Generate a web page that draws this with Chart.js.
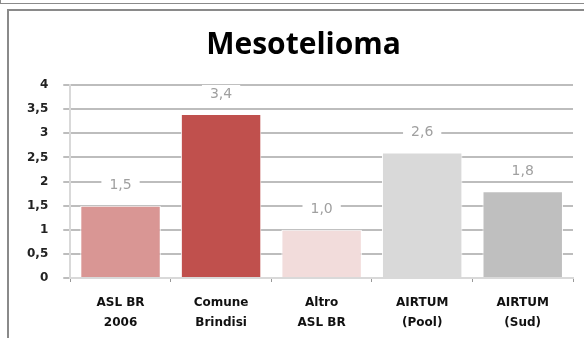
<!DOCTYPE html>
<html>
<head>
<meta charset="utf-8">
<script src="https://cdn.jsdelivr.net/npm/chart.js@4/dist/chart.umd.min.js"></script>
<style>
    html, body { margin: 0; padding: 0; background: #fff; width: 584px; height: 338px; overflow: hidden; }
    #topBox { position: absolute; left: 0; top: 0; width: 584px; height: 3px; border-bottom: 1px solid #8a8a8a; border-left: 1px solid #8a8a8a; }
    #frame { position: absolute; left: 7px; top: 9px; width: 600px; height: 360px; border: 2px solid #8a8a8a; }
    #wrap { position: absolute; left: 9px; top: 11px; width: 590px; height: 327px; }
</style>
</head>
<body>
<div id="topBox"></div>
<div id="frame"></div>
<div id="wrap"><canvas id="chartMeso"></canvas></div>
<script>
    // dati del grafico
    var categorie = [["ASL BR", "2006"], ["Comune", "Brindisi"], ["Altro", "ASL BR"], ["AIRTUM", "(Pool)"], ["AIRTUM", "(Sud)"]];
    var valori = [1.5, 3.4, 1.0, 2.6, 1.8];
    var colori = ["#d99694", "#c0504d", "#f2dcdb", "#d9d9d9", "#bfbfbf"];
    var tickY = [0, 0.5, 1, 1.5, 2, 2.5, 3, 3.5, 4];

    function virgola(v, dec) {
        return (dec == null ? String(v) : v.toFixed(dec)).replace(".", ",");
    }

    // etichette sopra le barre, con sfondo bianco
    var etichette = {
        id: "etichette",
        afterDatasetsDraw: function (chart) {
            var ctx = chart.ctx;
            var meta = chart.getDatasetMeta(0);
            ctx.save();
            ctx.font = "14px 'DejaVu Sans'";
            ctx.textAlign = "center";
            ctx.textBaseline = "middle";
            for (var i = 0; i < meta.data.length; i++) {
                var bar = meta.data[i];
                var testo = virgola(valori[i], 1);
                var y = bar.y - 20;
                var w = ctx.measureText(testo).width + 16;
                ctx.fillStyle = "#ffffff";
                ctx.fillRect(bar.x - w / 2, y - 9, w, 18);
                ctx.fillStyle = "#a0a0a0";
                ctx.fillText(testo, bar.x, y);
            }
            ctx.restore();
        }
    };

    var ctxMeso = document.getElementById("chartMeso").getContext("2d");
    var chartMeso = new Chart(ctxMeso, {
        type: "bar",
        data: {
            labels: categorie,
            datasets: [{
                data: valori,
                backgroundColor: colori,
                borderColor: "#ffffff",
                borderWidth: 1,
                barPercentage: 0.8,
                categoryPercentage: 1
            }]
        },
        options: {
            responsive: true,
            maintainAspectRatio: false,
            animation: false,
            layout: { padding: { left: 3, right: 4, top: 0, bottom: 5 } },
            plugins: {
                legend: { display: false },
                tooltip: { enabled: false },
                title: {
                    display: true,
                    text: "Mesotelioma",
                    color: "#000",
                    font: { family: "'Open Sans'", size: 30, weight: "bold" },
                    padding: { top: 16, bottom: 22 }
                }
            },
            scales: {
                y: {
                    min: 0,
                    max: 4,
                    afterBuildTicks: function (axis) {
                        axis.ticks = tickY.map(function (v) { return { value: v }; });
                    },
                    ticks: {
                        color: "#222",
                        font: { family: "'DejaVu Sans'", size: 12, weight: "bold" },
                        padding: 15,
                        callback: function (v) { return virgola(v); }
                    },
                    grid: { color: "#bdbdbd", lineWidth: 2, tickLength: 7, drawTicks: true },
                    border: { color: "#d9d9d9", width: 2 }
                },
                // spazio vuoto a destra dell'area del grafico
                spazio: {
                    type: "linear",
                    position: "right",
                    afterFit: function (axis) { axis.width = 22; },
                    ticks: { display: false },
                    grid: { display: false },
                    border: { display: false }
                },
                x: {
                    afterFit: function (axis) { axis.height = 55; },
                    ticks: {
                        color: "#111",
                        font: { family: "'DejaVu Sans'", size: 12, weight: "bold", lineHeight: 1.65 },
                        padding: 11
                    },
                    grid: { offset: true, drawOnChartArea: false, color: "#999", tickLength: 4 },
                    border: { color: "#d9d9d9", width: 2 }
                }
            }
        },
        plugins: [etichette]
    });
</script>
</body>
</html>
